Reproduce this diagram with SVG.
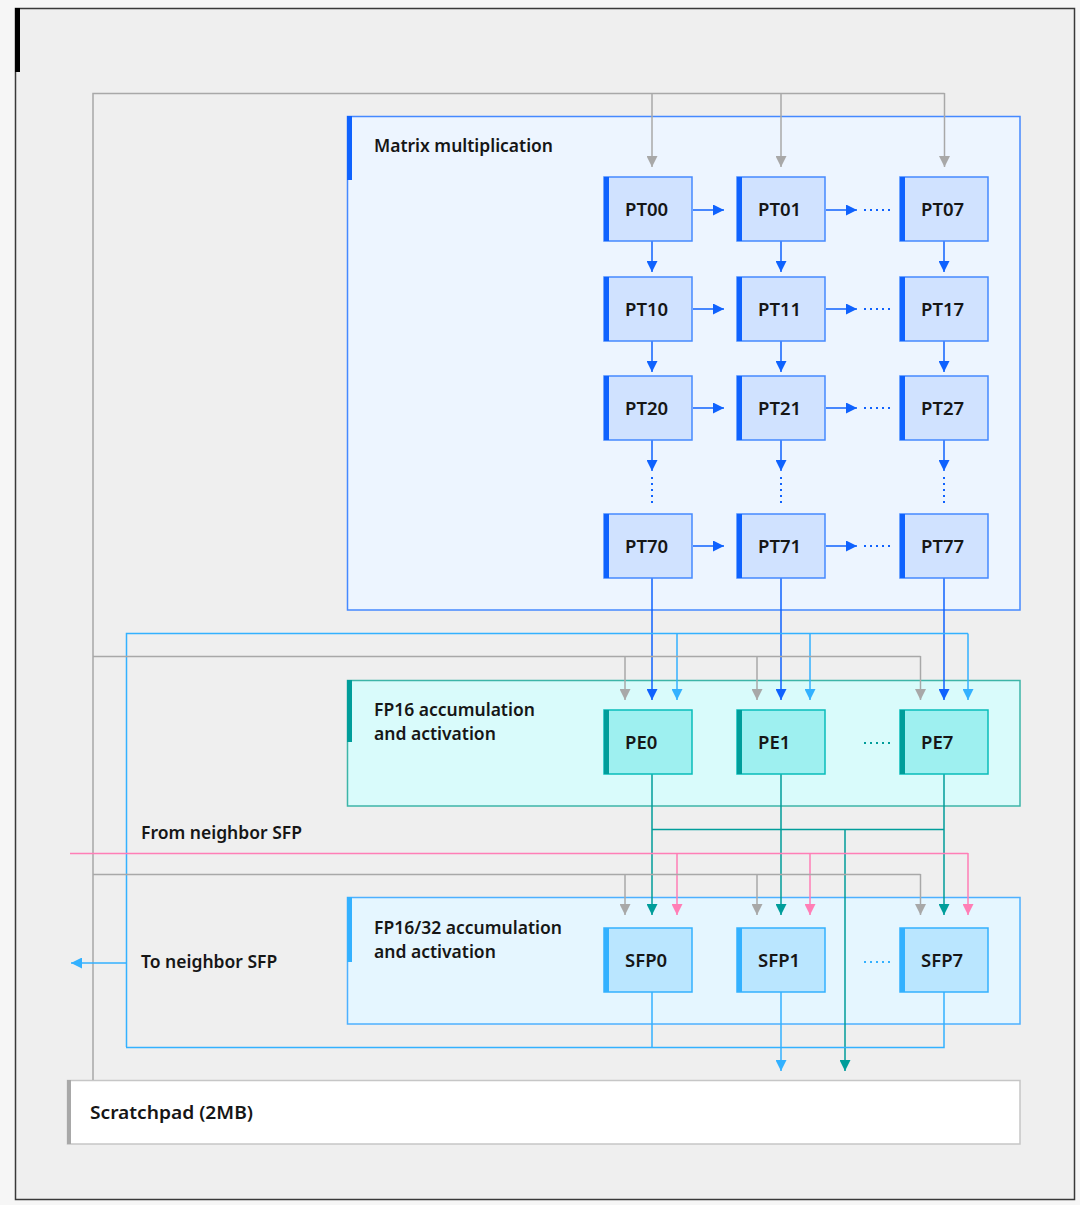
<svg xmlns="http://www.w3.org/2000/svg" width="1080" height="1205" viewBox="0 0 1080 1205">
<defs>
<style>
text{font-family:"Noto Sans","Liberation Sans",sans-serif;font-weight:600;font-size:17.5px;fill:#161616}
.n text{font-size:18.5px}
.blk{stroke-width:1.5}
.pt{fill:#d0e2ff;stroke:#4589ff;stroke-width:1.5}
.ptbar{fill:#0f62fe}
.pe{fill:#9ef0f0;stroke:#08bdba;stroke-width:1.5}
.pebar{fill:#009d9a}
.sfp{fill:#bae6ff;stroke:#33b1ff;stroke-width:1.5}
.sfpbar{fill:#33b1ff}
.g{stroke:#a8a8a8;stroke-width:1.5;fill:none}
.b{stroke:#0f62fe;stroke-width:1.5;fill:none}
.lb{stroke:#33b1ff;stroke-width:1.5;fill:none}
.t{stroke:#009d9a;stroke-width:1.5;fill:none}
.p{stroke:#ff7eb6;stroke-width:1.5;fill:none}
.dotb{stroke:#0f62fe;stroke-width:2;stroke-dasharray:2 4;fill:none}
.dott{stroke:#009d9a;stroke-width:2;stroke-dasharray:2 4;fill:none}
.dotl{stroke:#33b1ff;stroke-width:2;stroke-dasharray:2 4;fill:none}
</style>
<marker id="ag" markerUnits="userSpaceOnUse" markerWidth="11" markerHeight="11" viewBox="0 0 10 10" refX="10" refY="5" orient="auto"><path d="M0,0L10,5L0,10z" fill="#a8a8a8"/></marker>
<marker id="ab" markerUnits="userSpaceOnUse" markerWidth="11" markerHeight="11" viewBox="0 0 10 10" refX="10" refY="5" orient="auto"><path d="M0,0L10,5L0,10z" fill="#0f62fe"/></marker>
<marker id="al" markerUnits="userSpaceOnUse" markerWidth="11" markerHeight="11" viewBox="0 0 10 10" refX="10" refY="5" orient="auto"><path d="M0,0L10,5L0,10z" fill="#33b1ff"/></marker>
<marker id="at" markerUnits="userSpaceOnUse" markerWidth="11" markerHeight="11" viewBox="0 0 10 10" refX="10" refY="5" orient="auto"><path d="M0,0L10,5L0,10z" fill="#009d9a"/></marker>
<marker id="ap" markerUnits="userSpaceOnUse" markerWidth="11" markerHeight="11" viewBox="0 0 10 10" refX="10" refY="5" orient="auto"><path d="M0,0L10,5L0,10z" fill="#ff7eb6"/></marker>
</defs>
<rect x="0" y="0" width="1080" height="1205" fill="#f6f6f6"/>
<g id="frame">
<rect x="15.5" y="8.5" width="1059" height="1191" fill="#efefef" stroke="#393939" stroke-width="1.5"/>
<rect x="15" y="8" width="5" height="64" fill="#000"/>
</g>
<g id="matrix-block">
<rect x="347.5" y="116.5" width="672.5" height="493.5" fill="#edf5ff" stroke="#4589ff" class="blk"/>
<rect x="347" y="116" width="5" height="64" fill="#0f62fe"/>
<text x="374" y="152" textLength="179" lengthAdjust="spacingAndGlyphs">Matrix multiplication</text>
</g>
<g id="pe-block">
<rect x="347.5" y="680.5" width="672.5" height="125.5" fill="#d9fbfb" stroke="#3db5a8" class="blk"/>
<rect x="347" y="680" width="5" height="62" fill="#009d9a"/>
<text x="374" y="716">FP16 accumulation</text>
<text x="374" y="740">and activation</text>
</g>
<g id="sfp-block">
<rect x="347.5" y="897.5" width="672.5" height="126.5" fill="#e5f6ff" stroke="#4db0ff" class="blk"/>
<rect x="347" y="897" width="5" height="65" fill="#33b1ff"/>
<text x="374" y="934">FP16/32 accumulation</text>
<text x="374" y="958">and activation</text>
</g>
<g id="scratchpad">
<rect x="67.5" y="1080.5" width="952.5" height="63.5" fill="#ffffff" stroke="#c6c6c6" stroke-width="1.5"/>
<rect x="67" y="1080" width="4" height="64" fill="#a8a8a8"/>
<text x="90" y="1119" textLength="163" lengthAdjust="spacingAndGlyphs">Scratchpad (2MB)</text>
</g>
<g id="connectors">
<path class="g" d="M93,1080V93.5H944.5"/>
<path class="g" d="M652,93.5V167" marker-end="url(#ag)"/>
<path class="g" d="M781,93.5V167" marker-end="url(#ag)"/>
<path class="g" d="M944.5,93V167" marker-end="url(#ag)"/>
<path class="b" d="M693,210H724" marker-end="url(#ab)"/>
<path class="b" d="M826,210H857" marker-end="url(#ab)"/>
<path class="dotb" d="M864,210H892"/>
<path class="b" d="M693,309H724" marker-end="url(#ab)"/>
<path class="b" d="M826,309H857" marker-end="url(#ab)"/>
<path class="dotb" d="M864,309H892"/>
<path class="b" d="M693,408H724" marker-end="url(#ab)"/>
<path class="b" d="M826,408H857" marker-end="url(#ab)"/>
<path class="dotb" d="M864,408H892"/>
<path class="b" d="M693,546H724" marker-end="url(#ab)"/>
<path class="b" d="M826,546H857" marker-end="url(#ab)"/>
<path class="dotb" d="M864,546H892"/>
<path class="b" d="M652,241V272" marker-end="url(#ab)"/>
<path class="b" d="M781,241V272" marker-end="url(#ab)"/>
<path class="b" d="M944,241V272" marker-end="url(#ab)"/>
<path class="b" d="M652,341V372" marker-end="url(#ab)"/>
<path class="b" d="M781,341V372" marker-end="url(#ab)"/>
<path class="b" d="M944,341V372" marker-end="url(#ab)"/>
<path class="b" d="M652,440V471" marker-end="url(#ab)"/>
<path class="b" d="M781,440V471" marker-end="url(#ab)"/>
<path class="b" d="M944,440V471" marker-end="url(#ab)"/>
<path class="dotb" d="M652,477V505"/>
<path class="dotb" d="M781,477V505"/>
<path class="dotb" d="M944,477V505"/>
<path class="b" d="M652,578V700" marker-end="url(#ab)"/>
<path class="b" d="M781,578V700" marker-end="url(#ab)"/>
<path class="b" d="M944,578V700" marker-end="url(#ab)"/>
<path class="lb" d="M126.5,1047V633.5H968"/>
<path class="lb" d="M677,633.5V700" marker-end="url(#al)"/>
<path class="lb" d="M810,633.5V700" marker-end="url(#al)"/>
<path class="lb" d="M968,633.5V700" marker-end="url(#al)"/>
<path class="g" d="M93,656.5H920.5"/>
<path class="g" d="M625,656.5V700" marker-end="url(#ag)"/>
<path class="g" d="M757,656.5V700" marker-end="url(#ag)"/>
<path class="g" d="M920.5,656V700" marker-end="url(#ag)"/>
<path class="t" d="M652,774V915" marker-end="url(#at)"/>
<path class="t" d="M781,774V915" marker-end="url(#at)"/>
<path class="t" d="M944,774V915" marker-end="url(#at)"/>
<path class="t" d="M652,829.5H944"/>
<path class="t" d="M845,829.5V1071" marker-end="url(#at)"/>
<path class="p" d="M70,853.5H968"/>
<path class="p" d="M677,853.5V915" marker-end="url(#ap)"/>
<path class="p" d="M810,853.5V915" marker-end="url(#ap)"/>
<path class="p" d="M968,853V915" marker-end="url(#ap)"/>
<path class="g" d="M93,874.5H920.5"/>
<path class="g" d="M625,874.5V915" marker-end="url(#ag)"/>
<path class="g" d="M757,874.5V915" marker-end="url(#ag)"/>
<path class="g" d="M920.5,874V915" marker-end="url(#ag)"/>
<path class="lb" d="M652,992V1047"/>
<path class="lb" d="M944,992V1047.5H126"/>
<path class="lb" d="M781,992V1071" marker-end="url(#al)"/>
<path class="lb" d="M126.5,963H71" marker-end="url(#al)"/>
<path class="dott" d="M864,743H892"/>
<path class="dotl" d="M864,962H892"/>
</g>
<g id="labels">
<text x="141" y="839">From neighbor SFP</text>
<text x="141" y="968">To neighbor SFP</text>
</g>
<g class="n">
<g id="PT00"><rect class="pt" x="604" y="177" width="88" height="64"/><rect class="ptbar" x="604" y="177" width="5" height="64"/><text x="625" y="216">PT00</text></g>
<g id="PT01"><rect class="pt" x="737" y="177" width="88" height="64"/><rect class="ptbar" x="737" y="177" width="5" height="64"/><text x="758" y="216">PT01</text></g>
<g id="PT07"><rect class="pt" x="900" y="177" width="88" height="64"/><rect class="ptbar" x="900" y="177" width="5" height="64"/><text x="921" y="216">PT07</text></g>
<g id="PT10"><rect class="pt" x="604" y="277" width="88" height="64"/><rect class="ptbar" x="604" y="277" width="5" height="64"/><text x="625" y="316">PT10</text></g>
<g id="PT11"><rect class="pt" x="737" y="277" width="88" height="64"/><rect class="ptbar" x="737" y="277" width="5" height="64"/><text x="758" y="316">PT11</text></g>
<g id="PT17"><rect class="pt" x="900" y="277" width="88" height="64"/><rect class="ptbar" x="900" y="277" width="5" height="64"/><text x="921" y="316">PT17</text></g>
<g id="PT20"><rect class="pt" x="604" y="376" width="88" height="64"/><rect class="ptbar" x="604" y="376" width="5" height="64"/><text x="625" y="415">PT20</text></g>
<g id="PT21"><rect class="pt" x="737" y="376" width="88" height="64"/><rect class="ptbar" x="737" y="376" width="5" height="64"/><text x="758" y="415">PT21</text></g>
<g id="PT27"><rect class="pt" x="900" y="376" width="88" height="64"/><rect class="ptbar" x="900" y="376" width="5" height="64"/><text x="921" y="415">PT27</text></g>
<g id="PT70"><rect class="pt" x="604" y="514" width="88" height="64"/><rect class="ptbar" x="604" y="514" width="5" height="64"/><text x="625" y="553">PT70</text></g>
<g id="PT71"><rect class="pt" x="737" y="514" width="88" height="64"/><rect class="ptbar" x="737" y="514" width="5" height="64"/><text x="758" y="553">PT71</text></g>
<g id="PT77"><rect class="pt" x="900" y="514" width="88" height="64"/><rect class="ptbar" x="900" y="514" width="5" height="64"/><text x="921" y="553">PT77</text></g>
<g id="PE0"><rect class="pe" x="604" y="710" width="88" height="64"/><rect class="pebar" x="604" y="710" width="5" height="64"/><text x="625" y="749">PE0</text></g>
<g id="PE1"><rect class="pe" x="737" y="710" width="88" height="64"/><rect class="pebar" x="737" y="710" width="5" height="64"/><text x="758" y="749">PE1</text></g>
<g id="PE7"><rect class="pe" x="900" y="710" width="88" height="64"/><rect class="pebar" x="900" y="710" width="5" height="64"/><text x="921" y="749">PE7</text></g>
<g id="SFP0"><rect class="sfp" x="604" y="928" width="88" height="64"/><rect class="sfpbar" x="604" y="928" width="5" height="64"/><text x="625" y="967">SFP0</text></g>
<g id="SFP1"><rect class="sfp" x="737" y="928" width="88" height="64"/><rect class="sfpbar" x="737" y="928" width="5" height="64"/><text x="758" y="967">SFP1</text></g>
<g id="SFP7"><rect class="sfp" x="900" y="928" width="88" height="64"/><rect class="sfpbar" x="900" y="928" width="5" height="64"/><text x="921" y="967">SFP7</text></g>
</g>
</svg>
